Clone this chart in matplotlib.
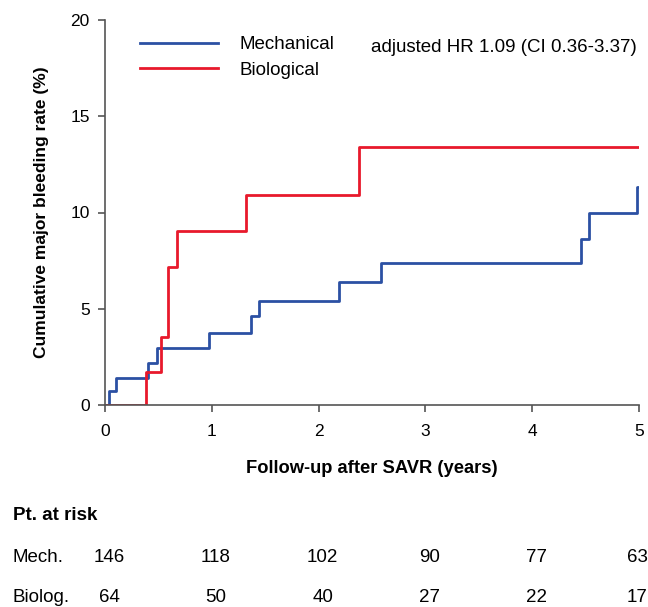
import numpy as np
import matplotlib.pyplot as plt

plt.rcParams['font.family'] = ['Liberation Sans', 'DejaVu Sans']

# step curves (time in years, cumulative %)
mech_t = [0, 0.04, 0.10, 0.40, 0.49, 0.97, 1.37, 1.44, 2.19, 2.58, 4.46, 4.53, 4.98, 5.0]
mech_y = [0, 0.73, 1.42, 2.20, 2.94, 3.74, 4.62, 5.42, 6.40, 7.39, 8.64, 9.96, 11.34, 11.34]
bio_t = [0, 0.38, 0.52, 0.59, 0.67, 1.32, 2.38, 5.0]
bio_y = [0, 1.70, 3.55, 7.18, 9.02, 10.92, 13.40, 13.40]

# numbers at risk
risk_years = [0, 1, 2, 3, 4, 5]
risk_mech = [146, 118, 102, 90, 77, 63]
risk_bio = [64, 50, 40, 27, 22, 17]

blue = '#2b50a3'
red = '#e8192c'
W, H = 648, 607
fs = 13.5

fig = plt.figure(figsize=(W / 100, H / 100), dpi=100)
ax = fig.add_axes([105 / W, 1 - 405 / H, 534 / W, 385 / H])

ax.step(mech_t, mech_y, where='post', color=blue, lw=2, label='Mechanical')
ax.step(bio_t, bio_y, where='post', color=red, lw=2, label='Biological')

ax.set_xlim(0, 5)
ax.set_ylim(0, 20)
ax.set_xticks(range(6))
ax.set_yticks([0, 5, 10, 15, 20])
ax.spines['top'].set_visible(False)
ax.spines['right'].set_visible(False)
for s in ['left', 'bottom']:
    ax.spines[s].set_color('#555555')
    ax.spines[s].set_linewidth(1.2)
ax.tick_params(labelsize=12.5, length=5, color='#555555', width=1.2, pad=6)
ax.tick_params(axis='x', pad=9)

ax.set_ylabel('Cumulative major bleeding rate (%)', fontsize=12.5, fontweight='bold')
ax.yaxis.set_label_coords(-56 / 534, 0.5)
ax.set_xlabel('Follow-up after SAVR (years)', fontsize=fs - 0.3, fontweight='bold')
ax.xaxis.set_label_coords(0.5, -55 / 385)

ax.legend(loc='upper left', bbox_to_anchor=(140 / W, 1 - 36 / H), bbox_transform=fig.transFigure,
          frameon=False, fontsize=fs, borderpad=0, borderaxespad=0,
          handlelength=4.15, handletextpad=1.15, labelspacing=0.45)
fig.text(637 / W, 1 - 47 / H, 'adjusted HR 1.09 (CI 0.36-3.37)', ha='right', va='center', fontsize=fs)

# risk table
fig.text(13 / W, 1 - 515 / H, 'Pt. at risk', fontsize=fs, fontweight='bold', va='center')
fig.text(13 / W, 1 - 557 / H, 'Mech.', fontsize=fs, va='center')
fig.text(13 / W, 1 - 597 / H, 'Biolog.', fontsize=fs, va='center')
for yr, m, b in zip(risk_years, risk_mech, risk_bio):
    xp = ax.transData.transform((yr, 0))[0] + 4
    xp = min(xp, W - 11)
    fig.text(xp / W, 1 - 557 / H, str(m), fontsize=fs, ha='center', va='center')
    fig.text(xp / W, 1 - 597 / H, str(b), fontsize=fs, ha='center', va='center')

fig.savefig('out.png', dpi=100)
